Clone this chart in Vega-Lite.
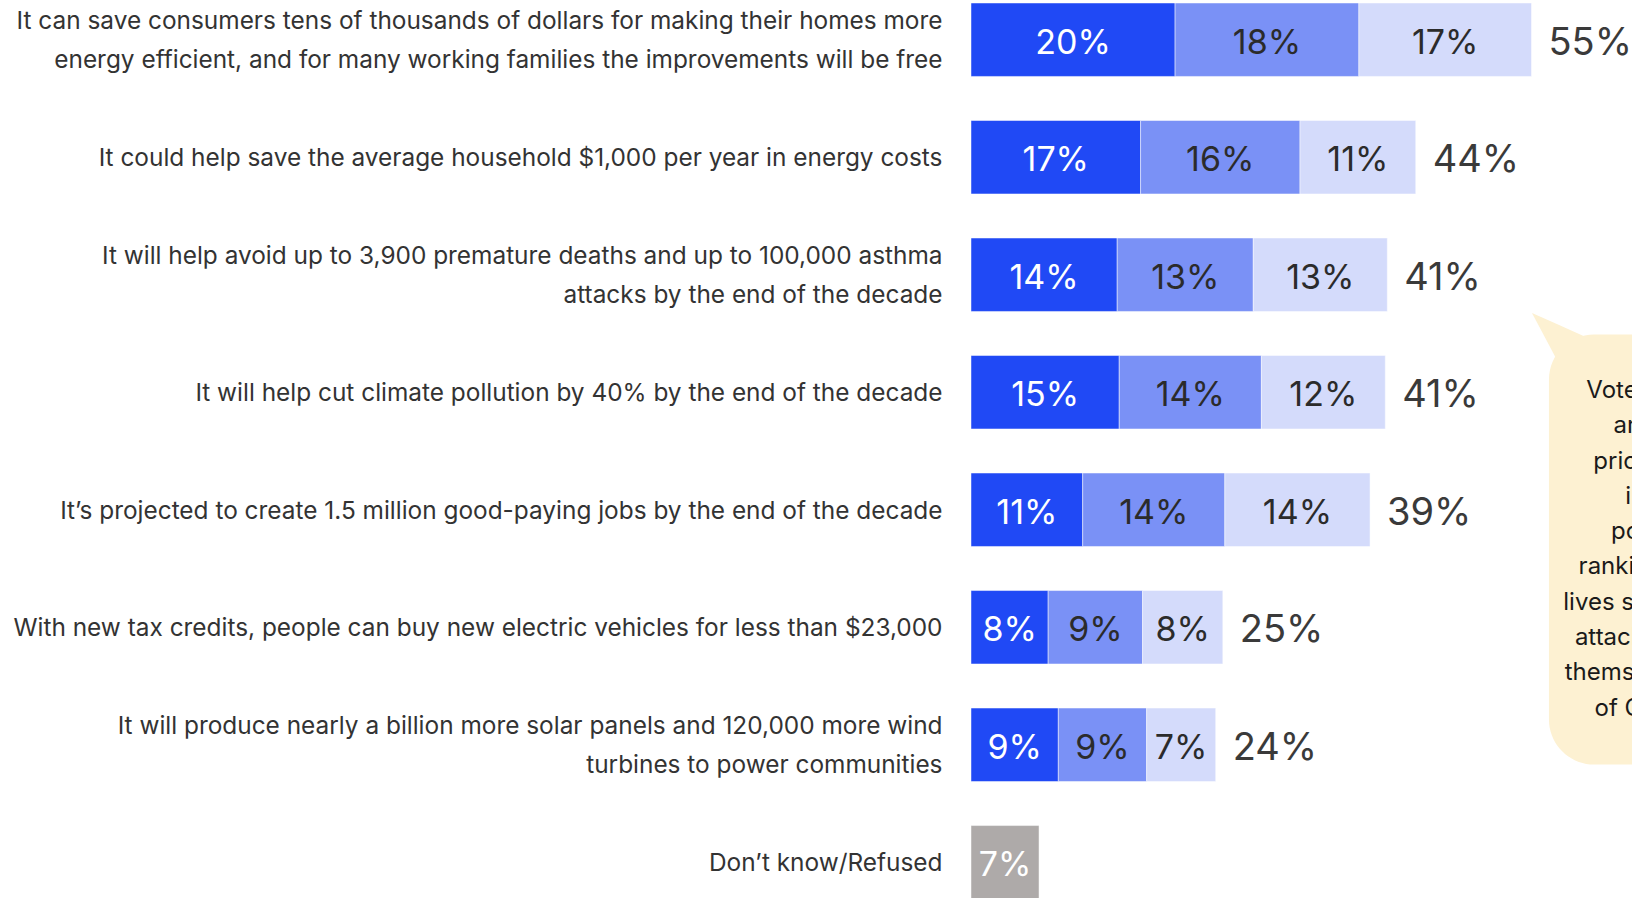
{
  "$schema": "https://vega.github.io/schema/vega-lite/v6.json",
  "width": 660,
  "height": 896,
  "autosize": {"type": "none"},
  "padding": {"left": 971, "top": 3, "right": 1, "bottom": 0},
  "background": "white",
  "config": {"view": {"stroke": null}, "font": "Inter"},
  "datasets": {
    "bars": [
      {"item": "It can save consumers tens of thousands of dollars for making their homes more|energy efficient, and for many working families the improvements will be free", "seg": "a", "value": 20.1},
      {"item": "It can save consumers tens of thousands of dollars for making their homes more|energy efficient, and for many working families the improvements will be free", "seg": "b", "value": 18.1},
      {"item": "It can save consumers tens of thousands of dollars for making their homes more|energy efficient, and for many working families the improvements will be free", "seg": "c", "value": 17.0},
      {"item": "It could help save the average household $1,000 per year in energy costs", "seg": "a", "value": 16.7},
      {"item": "It could help save the average household $1,000 per year in energy costs", "seg": "b", "value": 15.7},
      {"item": "It could help save the average household $1,000 per year in energy costs", "seg": "c", "value": 11.4},
      {"item": "It will help avoid up to 3,900 premature deaths and up to 100,000 asthma|attacks by the end of the decade", "seg": "a", "value": 14.4},
      {"item": "It will help avoid up to 3,900 premature deaths and up to 100,000 asthma|attacks by the end of the decade", "seg": "b", "value": 13.4},
      {"item": "It will help avoid up to 3,900 premature deaths and up to 100,000 asthma|attacks by the end of the decade", "seg": "c", "value": 13.2},
      {"item": "It will help cut climate pollution by 40% by the end of the decade", "seg": "a", "value": 14.6},
      {"item": "It will help cut climate pollution by 40% by the end of the decade", "seg": "b", "value": 14.0},
      {"item": "It will help cut climate pollution by 40% by the end of the decade", "seg": "c", "value": 12.2},
      {"item": "It’s projected to create 1.5 million good-paying jobs by the end of the decade", "seg": "a", "value": 11.0},
      {"item": "It’s projected to create 1.5 million good-paying jobs by the end of the decade", "seg": "b", "value": 14.0},
      {"item": "It’s projected to create 1.5 million good-paying jobs by the end of the decade", "seg": "c", "value": 14.3},
      {"item": "With new tax credits, people can buy new electric vehicles for less than $23,000", "seg": "a", "value": 7.6},
      {"item": "With new tax credits, people can buy new electric vehicles for less than $23,000", "seg": "b", "value": 9.3},
      {"item": "With new tax credits, people can buy new electric vehicles for less than $23,000", "seg": "c", "value": 7.9},
      {"item": "It will produce nearly a billion more solar panels and 120,000 more wind|turbines to power communities", "seg": "a", "value": 8.6},
      {"item": "It will produce nearly a billion more solar panels and 120,000 more wind|turbines to power communities", "seg": "b", "value": 8.7},
      {"item": "It will produce nearly a billion more solar panels and 120,000 more wind|turbines to power communities", "seg": "c", "value": 6.8},
      {"item": "Don’t know/Refused", "seg": "d", "value": 6.7}
    ],
    "bubble": [{"x": 56.92, "x2": 75, "y": 37, "y2": 85}],
    "tail": [
      {"x": 55.25, "y": 34.6, "y2": 34.6},
      {"x": 57.81, "y": 35.89, "y2": 40.07},
      {"x": 60.76, "y": 37.39, "y2": 44.31}
    ],
    "note": [{"x": 68.25, "y": 43.3, "t": "Voters across|are more|prioritizing a|in their|policy for|ranking the top|lives saved and in|attacks avoided|themselves and a|of Congress"}]
  },
  "layer": [
    {
      "data": {"name": "bars"},
      "encoding": {
        "y": {
          "field": "item",
          "type": "nominal",
          "sort": null,
          "scale": {
            "domain": [
              "It can save consumers tens of thousands of dollars for making their homes more|energy efficient, and for many working families the improvements will be free",
              "It could help save the average household $1,000 per year in energy costs",
              "It will help avoid up to 3,900 premature deaths and up to 100,000 asthma|attacks by the end of the decade",
              "It will help cut climate pollution by 40% by the end of the decade",
              "It’s projected to create 1.5 million good-paying jobs by the end of the decade",
              "With new tax credits, people can buy new electric vehicles for less than $23,000",
              "It will produce nearly a billion more solar panels and 120,000 more wind|turbines to power communities",
              "Don’t know/Refused"
            ],
            "paddingInner": 0.375,
            "paddingOuter": 0
          },
          "axis": {
            "title": null,
            "domain": false,
            "ticks": false,
            "grid": false,
            "labelPadding": 29,
            "labelFontSize": 24.4,
            "labelFont": "Inter",
            "labelColor": "#333333",
            "labelLimit": 1200,
            "labelLineHeight": 39,
            "labelOffset": {"condition": {"test": "indexof(datum.label, '|') >= 0", "value": -17.5}, "value": 2},
            "labelExpr": "split(datum.label, '|')"
          }
        }
      },
      "layer": [
        {
          "transform": [
            {"stack": "value", "groupby": ["item"], "sort": [{"field": "seg"}], "as": ["x0", "x1"]}
          ],
          "mark": {"type": "bar", "stroke": "#ffffff", "strokeWidth": 0.8, "strokeOpacity": 0.6},
          "encoding": {
            "x": {"field": "x0", "type": "quantitative", "scale": {"domain": [0, 65], "nice": false, "zero": false}, "axis": null},
            "x2": {"field": "x1"},
            "color": {
              "field": "seg",
              "type": "nominal",
              "scale": {"domain": ["a", "b", "c", "d"], "range": ["#2049f5", "#7a91f6", "#d4dbfb", "#aeaaa9"]},
              "legend": null
            }
          }
        },
        {
          "transform": [
            {"stack": "value", "groupby": ["item"], "sort": [{"field": "seg"}], "as": ["x0", "x1"]},
            {"calculate": "(datum.x0 + datum.x1) / 2", "as": "xm"},
            {"calculate": "format(datum.value, '.0f') + '%'", "as": "lab"}
          ],
          "mark": {"type": "text", "fontSize": 34, "font": "Inter", "align": "center", "baseline": "middle", "dy": 4},
          "encoding": {
            "x": {"field": "xm", "type": "quantitative"},
            "text": {"field": "lab", "type": "nominal"},
            "color": {
              "condition": {"test": "datum.seg === 'a' || datum.seg === 'd'", "value": "#ffffff"},
              "value": "#2b2b2b"
            }
          }
        },
        {
          "transform": [
            {"filter": "datum.seg !== 'd'"},
            {"aggregate": [{"op": "sum", "field": "value", "as": "total"}], "groupby": ["item"]},
            {"calculate": "format(datum.total, '.0f') + '%'", "as": "tlab"}
          ],
          "mark": {"type": "text", "fontSize": 38, "font": "Inter", "align": "left", "baseline": "middle", "dx": 17, "dy": 4, "color": "#3a3a3a"},
          "encoding": {
            "x": {"field": "total", "type": "quantitative"},
            "text": {"field": "tlab", "type": "nominal"}
          }
        }
      ]
    },
    {
      "layer": [
        {
          "data": {"name": "bubble"},
          "mark": {"type": "rect", "cornerRadius": 45, "color": "#fdf1d2"},
          "encoding": {
            "x": {"field": "x", "type": "quantitative"},
            "x2": {"field": "x2"},
            "y": {"field": "y", "type": "quantitative", "scale": {"domain": [0, 100], "reverse": true, "nice": false, "zero": false}, "axis": null},
            "y2": {"field": "y2"}
          }
        },
        {
          "data": {"name": "tail"},
          "mark": {"type": "area", "color": "#fdf1d2", "orient": "vertical"},
          "encoding": {
            "x": {"field": "x", "type": "quantitative"},
            "y": {"field": "y", "type": "quantitative", "axis": null},
            "y2": {"field": "y2"}
          }
        },
        {
          "data": {"name": "note"},
          "mark": {"type": "text", "fontSize": 24, "font": "Inter", "align": "center", "baseline": "middle", "lineBreak": "|", "lineHeight": 35.3, "color": "#1a1a1a"},
          "encoding": {
            "x": {"field": "x", "type": "quantitative"},
            "y": {"field": "y", "type": "quantitative", "axis": null},
            "text": {"field": "t", "type": "nominal"}
          }
        }
      ]
    }
  ],
  "resolve": {"scale": {"y": "independent"}}
}
